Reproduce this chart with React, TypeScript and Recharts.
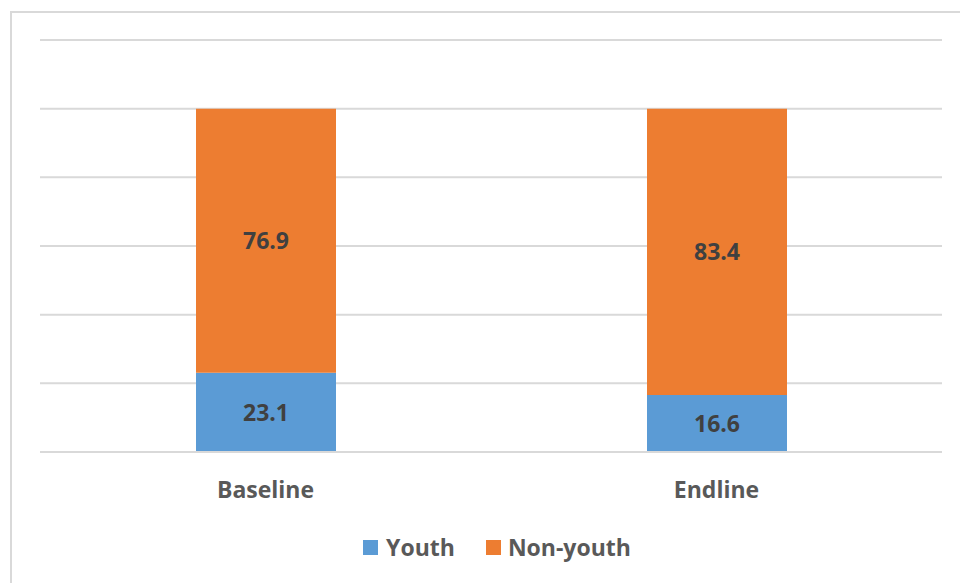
import React from "react";
import { BarChart, Bar, XAxis, YAxis, CartesianGrid, LabelList } from "recharts";

const categories = ["Baseline", "Endline"];
const youth = [23.1, 16.6];
const nonYouth = [76.9, 83.4];
const yTicks = [0, 20, 40, 60, 80, 100, 120];

const data = categories.map((c, i) => ({ name: c, youth: youth[i], nonYouth: nonYouth[i] }));

const FONT = "'Open Sans', 'Noto Sans', sans-serif";
const BLUE = "#5B9BD5";
const ORANGE = "#ED7D31";
const FS = 23;

export default function App() {
  return (
    <div style={{ position: "absolute", left: 0, top: 0, width: 960, height: 583, overflow: "hidden", background: "#fff" }}>
      <div style={{ position: "absolute", left: 10, top: 11, width: 980, height: 600, border: "2px solid #d9d9d9", boxSizing: "border-box" }} />
      <div style={{ position: "absolute", left: 0, top: 0 }}>
        <BarChart width={960} height={583} data={data} margin={{ top: 40, left: 40, right: 18, bottom: 101 }} barSize={140}>
          <CartesianGrid vertical={false} stroke="#d9d9d9" strokeWidth={2} />
          <YAxis hide domain={[0, 120]} ticks={yTicks} />
          <XAxis
            dataKey="name"
            axisLine={{ stroke: "#d9d9d9", strokeWidth: 2 }}
            tickLine={false}
            tick={{ fill: "#595959", fontFamily: FONT, fontWeight: 700, fontSize: FS }}
            tickMargin={24}
          />
          <Bar dataKey="youth" name="Youth" stackId="a" fill={BLUE} isAnimationActive={false}>
            <LabelList dataKey="youth" position="center" fill="#404040" style={{ fontFamily: FONT, fontWeight: 700, fontSize: FS }} />
          </Bar>
          <Bar dataKey="nonYouth" name="Non-youth" stackId="a" fill={ORANGE} isAnimationActive={false}>
            <LabelList dataKey="nonYouth" position="center" fill="#404040" style={{ fontFamily: FONT, fontWeight: 700, fontSize: FS }} />
          </Bar>
        </BarChart>
      </div>
      <div style={{ position: "absolute", left: 17, top: 530, width: 960, height: 34, display: "flex", justifyContent: "center", alignItems: "center", fontFamily: FONT, fontWeight: 700, fontSize: FS, color: "#595959" }}>
        <span style={{ display: "inline-block", width: 15, height: 15, background: BLUE, marginRight: 8 }} />
        <span style={{ marginRight: 31 }}>Youth</span>
        <span style={{ display: "inline-block", width: 15, height: 15, background: ORANGE, marginRight: 7 }} />
        <span>Non-youth</span>
      </div>
    </div>
  );
}
